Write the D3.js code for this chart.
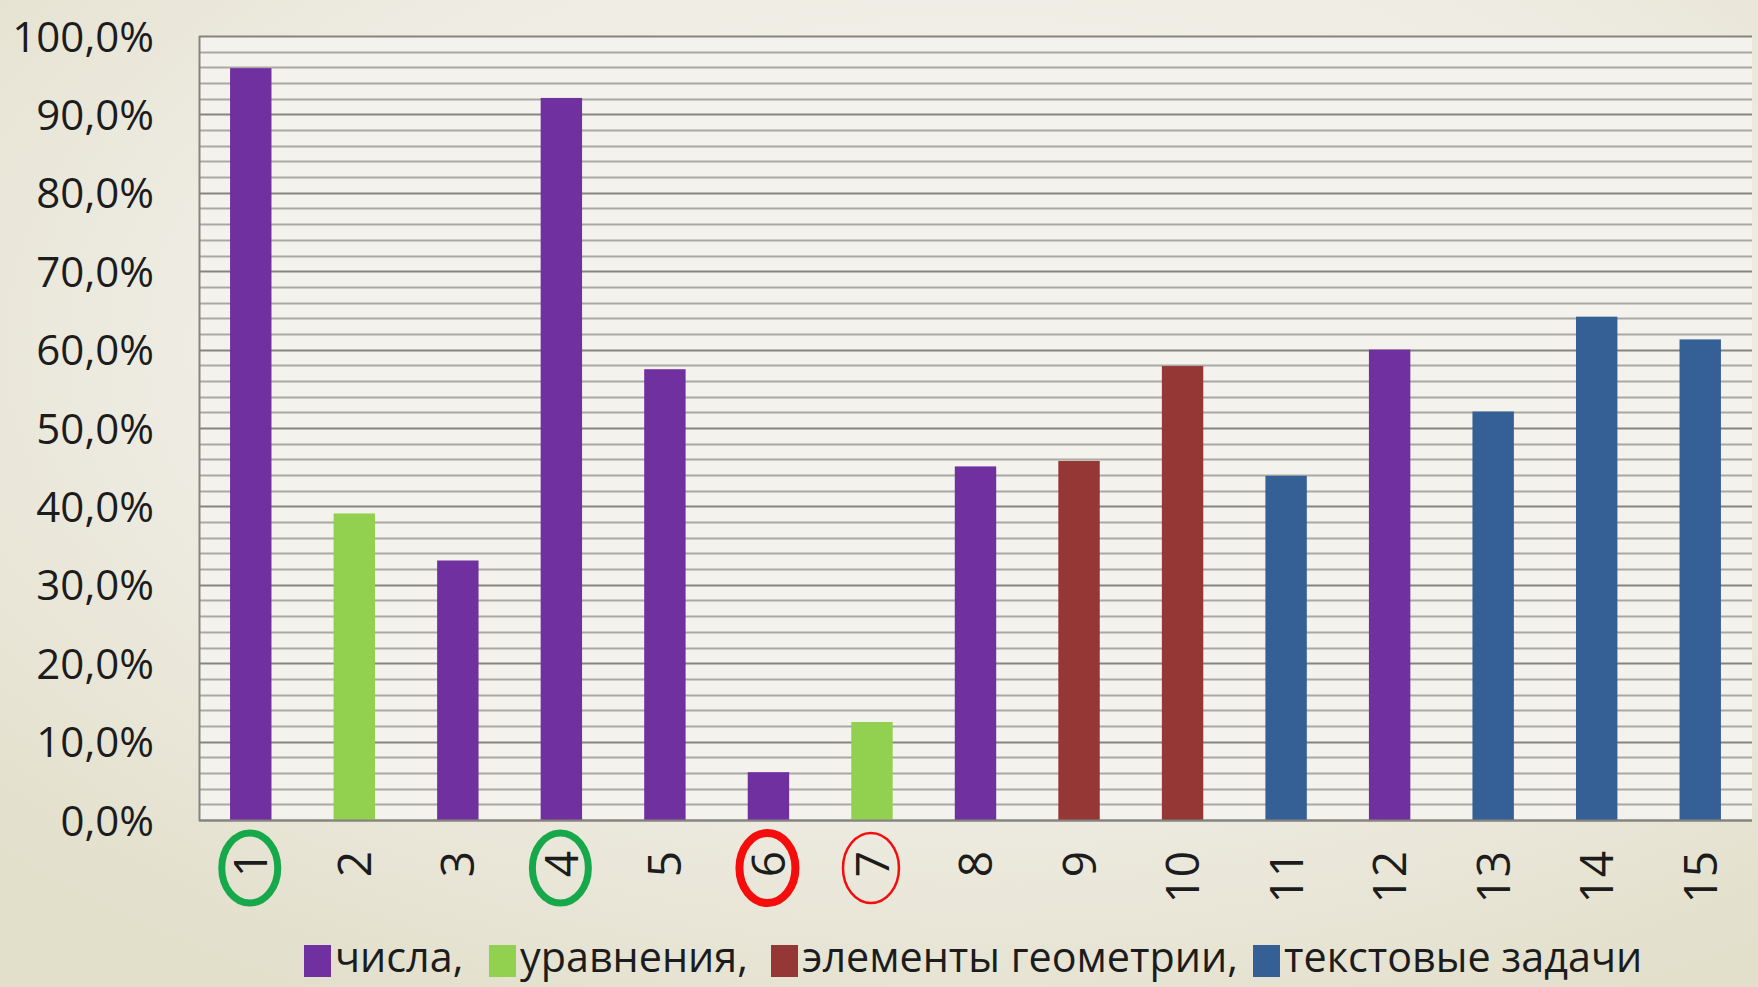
<!DOCTYPE html>
<html lang="ru">
<head>
<meta charset="utf-8">
<script src="https://cdn.jsdelivr.net/npm/d3@7"></script>
<style>
  html, body { margin: 0; padding: 0; }
  body { width: 1758px; height: 987px; overflow: hidden; }
  svg { display: block; }
  text { font-family: "Open Sans", "Noto Sans", sans-serif; fill: #1c1c1c; }
</style>
</head>
<body>
<svg id="chart" width="1758" height="987"></svg>
<script>
// Task numbers and share of correct answers (fraction of 1)
const categories = ["1","2","3","4","5","6","7","8","9","10","11","12","13","14","15"];
const values = [0.959, 0.391, 0.331, 0.921, 0.575, 0.061, 0.125, 0.451, 0.458, 0.579, 0.439, 0.600, 0.521, 0.642, 0.613];
// Topic of each task
const topics = ["числа","уравнения","числа","числа","числа","числа","уравнения","числа",
                "геометрия","геометрия","текстовые","числа","текстовые","текстовые","текстовые"];
const topicKeys = ["числа","уравнения","геометрия","текстовые"];
const legendLabels = ["числа,", "уравнения,", "элементы геометрии,", "текстовые задачи"];
const topicColors = ["#7030a0", "#92d050", "#953735", "#356096"];
// Tasks marked with rings below the axis
const marked = [
  { task: "1", color: "#16a84a", width: 7 },
  { task: "4", color: "#16a84a", width: 7 },
  { task: "6", color: "#f50d0d", width: 8 },
  { task: "7", color: "#f50d0d", width: 2.5 }
];
const yTicks = [0, 0.1, 0.2, 0.3, 0.4, 0.5, 0.6, 0.7, 0.8, 0.9, 1.0];

const svg = d3.select("#chart");
const W = 1758, H = 987;
const plot = { left: 199, right: 1752, top: 36, bottom: 820 };

// Background: soft cream radial wash
const defs = svg.append("defs");
const bg = defs.append("radialGradient").attr("id", "bg")
  .attr("cx", "55%").attr("cy", "35%").attr("r", "75%");
bg.append("stop").attr("offset", "0%").attr("stop-color", "#f5f4ef");
bg.append("stop").attr("offset", "60%").attr("stop-color", "#eeece2");
bg.append("stop").attr("offset", "100%").attr("stop-color", "#e2dfcb");
svg.append("rect").attr("width", W).attr("height", H).attr("fill", "url(#bg)");

const x = d3.scaleBand().domain(categories)
  .range([plot.left, plot.right]).paddingInner(0.6).paddingOuter(0.3);
const y = d3.scaleLinear().domain([0, 1]).range([plot.bottom, plot.top]);
const color = d3.scaleOrdinal().domain(topicKeys).range(topicColors);

// Plot area fill
svg.append("rect")
  .attr("x", plot.left).attr("y", plot.top)
  .attr("width", plot.right - plot.left).attr("height", plot.bottom - plot.top)
  .attr("fill", "#f3f2ec");

// Minor gridlines every 2 %, major every 10 %
const minor = d3.range(0, 1.0001, 0.02).filter(v => Math.round(v * 100) % 10 !== 0);
svg.append("g").selectAll("line").data(minor).join("line")
  .attr("x1", plot.left).attr("x2", plot.right)
  .attr("y1", d => Math.round(y(d)) + 0.5).attr("y2", d => Math.round(y(d)) + 0.5)
  .attr("stroke", "#a9a8a2").attr("stroke-width", 2);
svg.append("g").selectAll("line").data(yTicks).join("line")
  .attr("x1", plot.left).attr("x2", plot.right)
  .attr("y1", d => Math.round(y(d)) + 0.5).attr("y2", d => Math.round(y(d)) + 0.5)
  .attr("stroke", "#85847e").attr("stroke-width", 2.2);

// Bars
svg.append("g").selectAll("rect").data(categories).join("rect")
  .attr("x", d => x(d))
  .attr("width", x.bandwidth())
  .attr("y", (d, i) => y(values[i]))
  .attr("height", (d, i) => y(0) - y(values[i]))
  .attr("fill", (d, i) => color(topics[i]));

// Axis lines
svg.append("line").attr("x1", plot.left + 0.5).attr("x2", plot.left + 0.5)
  .attr("y1", plot.top).attr("y2", plot.bottom + 1)
  .attr("stroke", "#858480").attr("stroke-width", 2);
svg.append("line").attr("x1", plot.left).attr("x2", plot.right)
  .attr("y1", plot.bottom + 0.5).attr("y2", plot.bottom + 0.5)
  .attr("stroke", "#858480").attr("stroke-width", 2.2);

// Y axis labels
const fmt = v => d3.format(".1f")(v * 100).replace(".", ",") + "%";
const yAxis = d3.axisLeft(y).tickValues(yTicks).tickFormat(fmt).tickSize(0).tickPadding(0);
const gy = svg.append("g").attr("transform", `translate(${plot.left - 45},0)`).call(yAxis);
gy.select(".domain").remove();
gy.selectAll("text")
  .attr("font-size", 42).attr("fill", "#1c1c1c")
  .attr("font-family", '"Open Sans", sans-serif')
  .attr("dy", "0.36em");

// X axis labels, rotated
const xAxis = d3.axisBottom(x).tickSize(0).tickPadding(0);
const gx = svg.append("g").attr("transform", `translate(0,${plot.bottom})`).call(xAxis);
gx.select(".domain").remove();
gx.selectAll("text")
  .attr("font-size", 46).attr("fill", "#1c1c1c")
  .attr("font-family", '"Open Sans", sans-serif')
  .attr("text-anchor", "end")
  .attr("transform", "rotate(-90)")
  .attr("x", -31).attr("y", 0).attr("dy", "0.36em");

// Rings around marked task numbers
svg.append("g").selectAll("ellipse").data(marked).join("ellipse")
  .attr("cx", d => x(d.task) + x.bandwidth() / 2 - 1)
  .attr("cy", plot.bottom + 48)
  .attr("rx", 28).attr("ry", 35)
  .attr("fill", "none")
  .attr("stroke", d => d.color)
  .attr("stroke-width", d => d.width);

// Legend: key squares at fixed offsets along the bottom line
const legendX = [304, 489, 771, 1253];
const legend = svg.append("g");
legendLabels.forEach((label, i) => {
  const g = legend.append("g").attr("transform", `translate(${legendX[i]},0)`);
  g.append("rect").attr("x", 0).attr("y", 945).attr("width", 27).attr("height", 32)
    .attr("fill", topicColors[i]);
  g.append("text").attr("x", 31).attr("y", 972)
    .attr("font-size", 41.3).text(label);
});
</script>
</body>
</html>
